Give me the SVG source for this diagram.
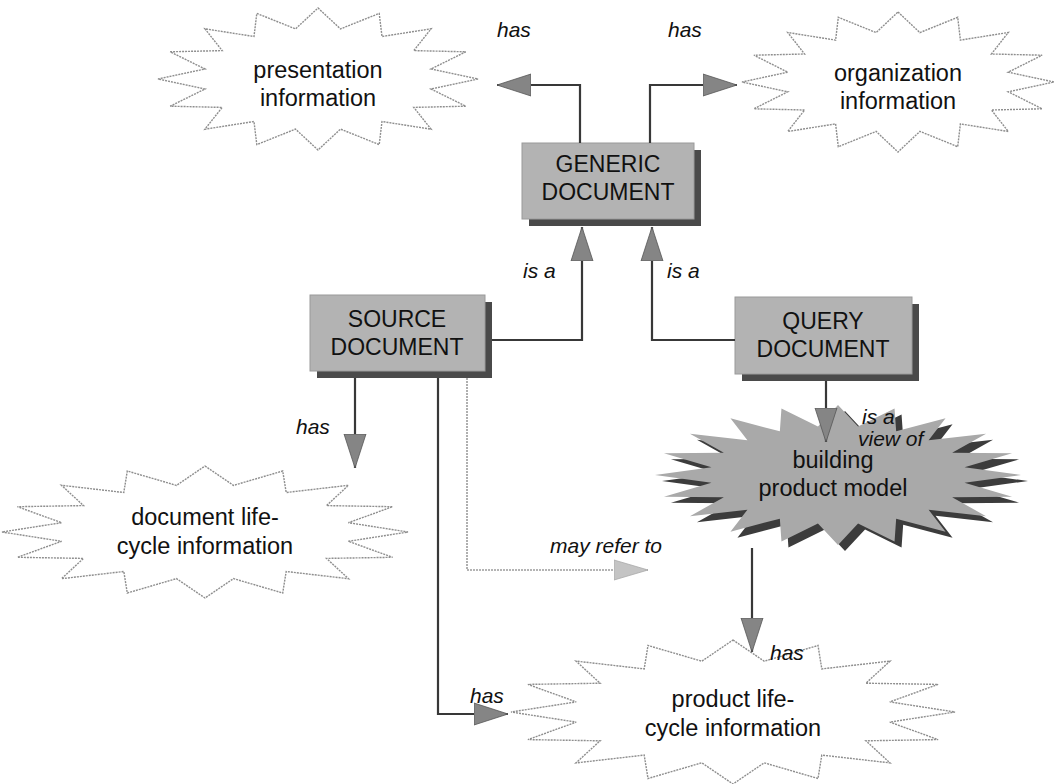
<svg xmlns="http://www.w3.org/2000/svg" width="1054" height="784" viewBox="0 0 1054 784">
<style>
.burst{fill:#fff;stroke:#8e8e8e;stroke-width:1.4;stroke-dasharray:2 1}
.btxt{font-family:"Liberation Sans",Arial,Helvetica,sans-serif;font-size:23.5px;fill:#111;text-anchor:middle}
.ntxt{font-family:"Liberation Sans",Arial,Helvetica,sans-serif;font-size:23px;fill:#111;text-anchor:middle}
.lbl{font-family:"Liberation Sans",Arial,Helvetica,sans-serif;font-size:21px;font-style:italic;fill:#111}
.box{fill:#b3b3b3;stroke:#9a9a9a;stroke-width:1}
.shadow{fill:#4a4a4a}
.conn{fill:none;stroke:#383838;stroke-width:2.2}
.connl{fill:none;stroke:#9c9c9c;stroke-width:1.6;stroke-dasharray:2 1}
</style>
<defs>
<path id="s20" d="M0,-1 L0.1095,-0.6914 L0.309,-0.9511 L0.3178,-0.6237 L0.5878,-0.809 L0.495,-0.495 L0.809,-0.5878 L0.6237,-0.3178 L0.9511,-0.309 L0.6914,-0.1095 L1,0 L0.6914,0.1095 L0.9511,0.309 L0.6237,0.3178 L0.809,0.5878 L0.495,0.495 L0.5878,0.809 L0.3178,0.6237 L0.309,0.9511 L0.1095,0.6914 L0,1 L-0.1095,0.6914 L-0.309,0.9511 L-0.3178,0.6237 L-0.5878,0.809 L-0.495,0.495 L-0.809,0.5878 L-0.6237,0.3178 L-0.9511,0.309 L-0.6914,0.1095 L-1,0 L-0.6914,-0.1095 L-0.9511,-0.309 L-0.6237,-0.3178 L-0.809,-0.5878 L-0.495,-0.495 L-0.5878,-0.809 L-0.3178,-0.6237 L-0.309,-0.9511 L-0.1095,-0.6914 Z"/>
<marker id="ah" markerUnits="userSpaceOnUse" markerWidth="36" markerHeight="24" refX="34" refY="12" orient="auto">
<path d="M0,1 L34,12 L0,23 Z" fill="#858585" stroke="#555" stroke-width="0.8"/>
</marker>
<marker id="ahl" markerUnits="userSpaceOnUse" markerWidth="36" markerHeight="24" refX="34" refY="12" orient="auto">
<path d="M0,2 L34,12 L0,22 Z" fill="#c4c4c4" stroke="#aaa" stroke-width="0.8"/>
</marker>
</defs>

<g id="presentation-information">
<polygon class="burst" points="318,8 340.5,28.9 379.2,13.4 382,36.5 431.1,28.8 413.8,50.6 465.8,51.8 431,69 478,79 431,89 465.8,106.2 413.8,107.4 431.1,129.2 382,121.5 379.2,144.6 340.5,129.1 318,150 295.5,129.1 256.8,144.6 254,121.5 204.9,129.2 222.2,107.4 170.2,106.2 205,89 158,79 205,69 170.2,51.8 222.2,50.6 204.9,28.8 254,36.5 256.8,13.4 295.5,28.9"/>
<text class="btxt" x="318" y="78">presentation</text>
<text class="btxt" x="318" y="106">information</text>
</g>

<g id="organization-information">
<polygon class="burst" points="898,12 919.9,32.6 957.7,17.3 960.4,40.1 1008.3,32.5 991.4,54 1042.1,55.2 1008.2,72.2 1054,82 1008.2,91.8 1042.1,108.8 991.4,110 1008.3,131.5 960.4,123.9 957.7,146.7 919.9,131.4 898,152 876.1,131.4 838.3,146.7 835.6,123.9 787.7,131.5 804.6,110 753.9,108.8 787.8,91.8 742,82 787.8,72.2 753.9,55.2 804.6,54 787.7,32.5 835.6,40.1 838.3,17.3 876.1,32.6"/>
<text class="btxt" x="898" y="81">organization</text>
<text class="btxt" x="898" y="109">information</text>
</g>

<g id="document-lifecycle-information">
<polygon class="burst" points="205,466 233.5,485.4 282.7,471 286.2,492.5 348.5,485.3 326.5,505.6 392.6,506.7 348.4,522.7 408,532 348.4,541.3 392.6,557.3 326.5,558.4 348.5,578.7 286.2,571.5 282.7,593 233.5,578.6 205,598 176.5,578.6 127.3,593 123.8,571.5 61.5,578.7 83.5,558.4 17.4,557.3 61.6,541.3 2,532 61.6,522.7 17.4,506.7 83.5,505.6 61.5,485.3 123.8,492.5 127.3,471 176.5,485.4"/>
<text class="btxt" x="205" y="525">document life-</text>
<text class="btxt" x="205" y="554">cycle information</text>
</g>

<g id="product-lifecycle-information">
<polygon class="burst" points="733,640 764.2,661.2 818,645.5 821.8,668.9 890,661.1 865.9,683.2 938.1,684.4 889.8,701.9 955,712 889.8,722.1 938.1,739.6 865.9,740.8 890,762.9 821.8,755.1 818,778.5 764.2,762.8 733,784 701.8,762.8 648,778.5 644.2,755.1 576,762.9 600.1,740.8 527.9,739.6 576.2,722.1 511,712 576.2,701.9 527.9,684.4 600.1,683.2 576,661.1 644.2,668.9 648,645.5 701.8,661.2"/>
<text class="btxt" x="733" y="707">product life-</text>
<text class="btxt" x="733" y="736">cycle information</text>
</g>

<g id="building-product-model">
<use href="#s20" fill="#3c3c3c" transform="translate(845,481) scale(183,70)"/>
<use href="#s20" fill="#a9a9a9" transform="translate(838,475) scale(183,70)"/>
<text class="btxt" x="833" y="468">building</text>
<text class="btxt" x="833" y="496">product model</text>
</g>

<g id="generic-document">
<rect class="shadow" x="529" y="150" width="172" height="76"/>
<rect class="box" x="522" y="143" width="172" height="76"/>
<text class="ntxt" x="608" y="172">GENERIC</text>
<text class="ntxt" x="608" y="200">DOCUMENT</text>
</g>

<g id="source-document">
<rect class="shadow" x="317" y="302" width="175" height="76"/>
<rect class="box" x="310" y="295" width="175" height="76"/>
<text class="ntxt" x="397" y="327">SOURCE</text>
<text class="ntxt" x="397" y="355">DOCUMENT</text>
</g>

<g id="query-document">
<rect class="shadow" x="742" y="304" width="177" height="77"/>
<rect class="box" x="735" y="297" width="177" height="77"/>
<text class="ntxt" x="823" y="329">QUERY</text>
<text class="ntxt" x="823" y="357">DOCUMENT</text>
</g>

<g id="connectors">
<path class="conn" d="M580,143 V85 H497" marker-end="url(#ah)"/>
<path class="conn" d="M650,143 V85 H737" marker-end="url(#ah)"/>
<path class="conn" d="M492,340 H582 V227" marker-end="url(#ah)"/>
<path class="conn" d="M735,340 H652 V227" marker-end="url(#ah)"/>
<path class="conn" d="M355,378 V468" marker-end="url(#ah)"/>
<path class="conn" d="M438,378 V714 H508" marker-end="url(#ah)"/>
<path class="connl" d="M467,378 V570 H648" marker-end="url(#ahl)"/>
<path class="conn" d="M826,381 V442" marker-end="url(#ah)"/>
<path class="conn" d="M752,548 V652" marker-end="url(#ah)"/>
<text class="lbl" x="497" y="37">has</text>
<text class="lbl" x="668" y="37">has</text>
<text class="lbl" x="523" y="278">is a</text>
<text class="lbl" x="667" y="278">is a</text>
<text class="lbl" x="296" y="434">has</text>
<text class="lbl" x="550" y="553">may refer to</text>
<text class="lbl" x="862" y="424">is  a</text>
<text class="lbl" x="858" y="446">view of</text>
<text class="lbl" x="770" y="660">has</text>
<text class="lbl" x="470" y="703">has</text>
</g>
</svg>
